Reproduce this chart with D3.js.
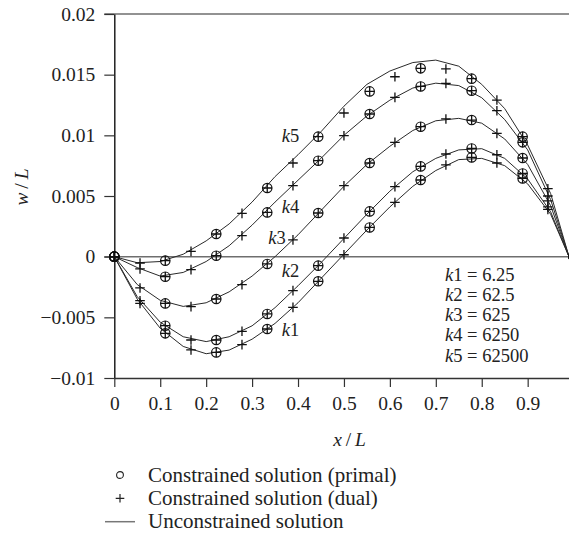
<!DOCTYPE html>
<html>
<head>
<meta charset="utf-8">
<script src="https://cdn.jsdelivr.net/npm/d3@7"></script>
<style>
  body { margin: 0; background: #fff; }
  svg text { font-family: "Liberation Serif", "Times New Roman", serif; fill: #222; }
</style>
</head>
<body>
<div id="chart"></div>
<script>
// spring stiffness of each case
const kNames = ["k1", "k2", "k3", "k4", "k5"];
const kValues = ["6.25", "62.5", "625", "6250", "62500"];

const xTicks = [0, 0.1, 0.2, 0.3, 0.4, 0.5, 0.6, 0.7, 0.8, 0.9];
const yTicks = [-0.01, -0.005, 0, 0.005, 0.01, 0.015, 0.02];

// nodes of the constrained solutions (dual at every node, primal at every second one)
const nodeX = [0, 0.056, 0.111, 0.167, 0.222, 0.278, 0.333, 0.389, 0.444, 0.5,
               0.556, 0.611, 0.667, 0.722, 0.778, 0.833, 0.889, 0.944, 1];

const dualK1 = [0, -0.00385, -0.00632, -0.00769, -0.00789, -0.00725, -0.00596, -0.00418, -0.00203, 0.00016,
                0.00241, 0.00447, 0.00632, 0.00756, 0.00818, 0.00772, 0.00645, 0.0039, 0];
const dualK2 = [0, -0.00363, -0.00569, -0.00687, -0.00687, -0.00615, -0.00472, -0.0028, -0.00074, 0.00154,
                0.00373, 0.00577, 0.00744, 0.00846, 0.00892, 0.0084, 0.00686, 0.0041, 0];
const dualK3 = [0, -0.00258, -0.00385, -0.00412, -0.00349, -0.00231, -0.0006, 0.00138, 0.0036, 0.00585,
                0.00772, 0.00942, 0.01071, 0.01135, 0.01126, 0.01016, 0.00813, 0.0046, 0];
const dualK4 = [0, -0.00101, -0.00165, -0.00107, 0.00008, 0.00173, 0.00365, 0.00585, 0.00791, 0.00997,
                0.01176, 0.01313, 0.01403, 0.01428, 0.01368, 0.01203, 0.00942, 0.005, 0];
const dualK5 = [0, -0.00052, -0.00033, 0.00044, 0.00187, 0.00357, 0.00566, 0.00772, 0.00989, 0.01184,
                0.01362, 0.01483, 0.01552, 0.01547, 0.01467, 0.01291, 0.00989, 0.0056, 0];

// unconstrained solution
const lineX = [0, 0.05, 0.1, 0.15, 0.2, 0.25, 0.3, 0.35, 0.4, 0.45, 0.5,
               0.55, 0.6, 0.65, 0.7, 0.75, 0.8, 0.85, 0.9, 0.95, 0.99];
const freeK1 = [0, -0.0035, -0.0059, -0.0074, -0.008, -0.0077, -0.0068, -0.0055, -0.0038, -0.0018, 0.0002,
                0.0022, 0.0041, 0.0058, 0.0071, 0.008, 0.0081, 0.0075, 0.006, 0.0035, 0];
const freeK2 = [0, -0.0033, -0.0054, -0.0066, -0.007, -0.0066, -0.0057, -0.0042, -0.0024, -0.0005, 0.0015,
                0.0035, 0.0054, 0.007, 0.0081, 0.0088, 0.0089, 0.0081, 0.0064, 0.0037, 0];
const freeK3 = [0, -0.0023, -0.0036, -0.0041, -0.0038, -0.0029, -0.0016, 0, 0.0018, 0.0038, 0.0058,
                0.0076, 0.0091, 0.0104, 0.0112, 0.0114, 0.011, 0.0097, 0.0076, 0.0042, 0];
const freeK4 = [0, -0.0009, -0.0016, -0.0013, -0.0004, 0.0009, 0.0026, 0.0045, 0.0063, 0.0081, 0.01,
                0.0116, 0.0129, 0.0139, 0.0143, 0.0141, 0.0131, 0.0113, 0.0088, 0.0047, 0];
const freeK5 = [0, -0.0005, -0.0004, 0.0002, 0.0013, 0.0027, 0.0045, 0.0066, 0.0084, 0.0103, 0.0124,
                0.0142, 0.0153, 0.016, 0.0162, 0.0157, 0.0142, 0.0122, 0.0092, 0.0052, 0];

const legendLabels = ["Constrained solution (primal)", "Constrained solution (dual)", "Unconstrained solution"];

class DeflectionChart {
  constructor(_parent) {
    this.margin = {top: 14, left: 114.3};
    this.width = 459.3;
    this.height = 364;
    this.parent = _parent;

    this.dual = [dualK1, dualK2, dualK3, dualK4, dualK5];
    this.free = [freeK1, freeK2, freeK3, freeK4, freeK5];

    this.initVis();
  }

  initVis() {
    let vis = this;

    vis.svg = d3.select(vis.parent)
      .append("svg")
        .attr("width", 569)
        .attr("height", 535);

    vis.g = vis.svg.append("g")
      .attr("transform", `translate(${vis.margin.left},${vis.margin.top})`);

    vis.x = d3.scaleLinear().domain([0, 1]).range([0, vis.width]);
    vis.y = d3.scaleLinear().domain([-0.01, 0.02]).range([vis.height, 0]);

    vis.renderVis();
  }

  renderVis() {
    let vis = this;

    // grey guide lines at the top and at zero
    [0.02, 0].forEach(v => {
      vis.g.append("line")
        .attr("x1", -10).attr("x2", vis.width)
        .attr("y1", vis.y(v)).attr("y2", vis.y(v))
        .attr("stroke", "#6e6e6e").attr("stroke-width", 1.5);
    });

    // axes
    let yAxis = d3.axisLeft(vis.y)
      .tickValues(yTicks)
      .tickSize(10).tickSizeOuter(0).tickPadding(9)
      .tickFormat(d => String(d).replace("-", "\u2212"));
    let yG = vis.g.append("g").call(yAxis);
    yG.select(".domain").attr("stroke", "#111").attr("stroke-width", 1.4);
    yG.selectAll(".tick line").attr("stroke", "#333").attr("stroke-width", 1.2);
    yG.selectAll("text").attr("font-size", "19.5px").attr("fill", "#222")
      .attr("font-family", "Liberation Serif, serif");

    let xAxis = d3.axisBottom(vis.x)
      .tickValues(xTicks)
      .tickSize(9).tickSizeOuter(0).tickPadding(9.5)
      .tickFormat(d => String(d));
    let xG = vis.g.append("g")
      .attr("transform", `translate(0,${vis.height})`)
      .call(xAxis);
    xG.select(".domain").attr("stroke", "#333").attr("stroke-width", 1.3);
    xG.selectAll(".tick line").attr("stroke", "#333").attr("stroke-width", 1.2);
    xG.selectAll("text").attr("font-size", "19.5px").attr("fill", "#222")
      .attr("font-family", "Liberation Serif, serif");

    // unconstrained lines
    let line = d3.line()
      .x((d, i) => vis.x(lineX[i]))
      .y(d => vis.y(d));

    vis.g.selectAll(".free")
      .data(vis.free)
      .join("path")
        .attr("class", "free")
        .attr("d", line)
        .attr("fill", "none")
        .attr("stroke", "#2a2a2a")
        .attr("stroke-width", 1);

    // dual solution: plus at every node
    let plus = "M-4.8,0H4.8M0,-4.8V4.8";
    vis.dual.forEach(series => {
      vis.g.append("g").selectAll("path")
        .data(series)
        .join("path")
          .attr("d", plus)
          .attr("transform", (d, i) => `translate(${vis.x(nodeX[i])},${vis.y(d)})`)
          .attr("stroke", "#111")
          .attr("stroke-width", 1.3)
          .attr("fill", "none");
    });

    // primal solution: circle at every second node
    vis.dual.forEach(series => {
      let primal = series.map((d, i) => ({x: nodeX[i], v: d})).filter((d, i) => i % 2 === 0);
      vis.g.append("g").selectAll("circle")
        .data(primal)
        .join("circle")
          .attr("cx", d => vis.x(d.x))
          .attr("cy", d => vis.y(d.v))
          .attr("r", 4.7)
          .attr("fill", "none")
          .attr("stroke", "#111")
          .attr("stroke-width", 1.2);
    });

    // curve labels
    let curveLabels = [
      {name: "k5", x: 0.3645, y: 0.00948},
      {name: "k4", x: 0.3645, y: 0.00362},
      {name: "k3", x: 0.3353, y: 0.00102},
      {name: "k2", x: 0.3645, y: -0.0017},
      {name: "k1", x: 0.3645, y: -0.00654}
    ];
    curveLabels.forEach(l => {
      let t = vis.g.append("text")
        .attr("x", vis.x(l.x)).attr("y", vis.y(l.y))
        .attr("font-size", "18.5px");
      t.append("tspan").attr("font-style", "italic").text(l.name[0]);
      t.append("tspan").text(l.name.slice(1));
    });

    // stiffness list
    kNames.forEach((k, i) => {
      let t = vis.g.append("text")
        .attr("x", vis.x(0.72))
        .attr("y", 266.7 + i * 20.25)
        .attr("font-size", "18.5px");
      t.append("tspan").attr("font-style", "italic").text(k[0]);
      t.append("tspan").text(k.slice(1) + " = " + kValues[i]);
    });

    // axis titles
    let xt = vis.svg.append("text")
      .attr("x", 349.5).attr("y", 446)
      .attr("text-anchor", "middle")
      .attr("font-size", "19.5px");
    xt.append("tspan").attr("font-style", "italic").text("x");
    xt.append("tspan").text("\u2009/\u2009");
    xt.append("tspan").attr("font-style", "italic").text("L");

    let yt = vis.svg.append("text")
      .attr("transform", "translate(28,187) rotate(-90)")
      .attr("text-anchor", "middle")
      .attr("font-size", "19.5px");
    yt.append("tspan").attr("font-style", "italic").text("w");
    yt.append("tspan").text("\u2009/\u2009");
    yt.append("tspan").attr("font-style", "italic").text("L");

    // legend
    let leg = vis.svg.append("g").attr("transform", "translate(0,475)");
    leg.append("circle").attr("cx", 120).attr("cy", 0).attr("r", 3.4)
      .attr("fill", "none").attr("stroke", "#222").attr("stroke-width", 1.1);
    leg.append("path").attr("d", "M115.7,23.3H124.3M120,19V27.6")
      .attr("stroke", "#222").attr("stroke-width", 1.2);
    leg.append("line").attr("x1", 105).attr("x2", 135).attr("y1", 46.7).attr("y2", 46.7)
      .attr("stroke", "#777").attr("stroke-width", 1.5);
    leg.selectAll(".legtext")
      .data(legendLabels)
      .join("text")
        .attr("class", "legtext")
        .attr("x", 148)
        .attr("y", (d, i) => 6.5 + i * 23)
        .attr("font-size", "21px")
        .text(d => d);
  }
}

new DeflectionChart("#chart");
</script>
</body>
</html>
